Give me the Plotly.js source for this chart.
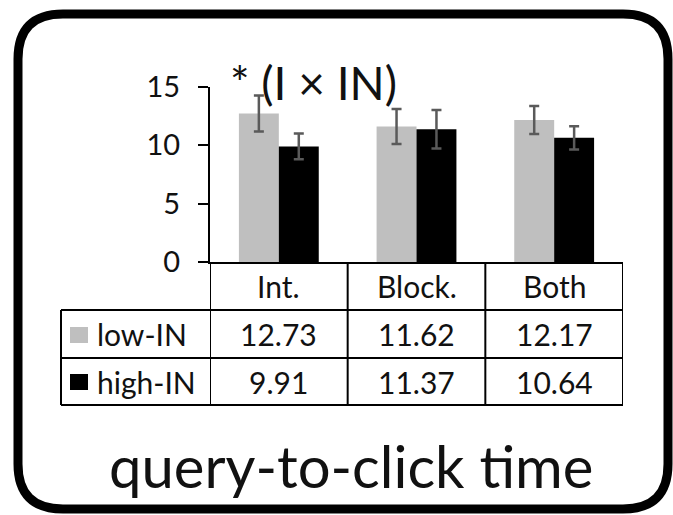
<!DOCTYPE html>
<html>
<head>
<meta charset="utf-8">
<script src="https://cdn.plot.ly/plotly-3.0.1.min.js"></script>
<style>html,body{margin:0;padding:0;background:#fff;}#chart{width:673px;height:515px;}</style>
</head>
<body>
<div id="chart"></div>
<script>
const categories = ['Int.', 'Block.', 'Both'];
const seriesNames = ['low-IN', 'high-IN'];
const lowIN = [12.73, 11.62, 12.17];
const highIN = [9.91, 11.37, 10.64];
const lowErr = [1.55, 1.5, 1.2];
const highErr = [1.1, 1.65, 1.0];
const yTicks = [0, 5, 10, 15];
const chartTitle = 'query-to-click time';
const sigLabel = '* (I \u00d7 IN)';

const W = 673, H = 515;
const M = {l: 210, r: 50, t: 87, b: 253};
const PW = W - M.l - M.r, PH = H - M.t - M.b;
const px = x => (x - M.l) / PW;
const py = y => (H - M.b - y) / PH;

const FONT = 'Lato, "Open Sans", sans-serif';
const WT = 400;
const colors = ['#bfbfbf', '#000000'];

const traces = [
  {type: 'bar', x: categories, y: lowIN, name: seriesNames[0], marker: {color: colors[0]},
   error_y: {type: 'data', array: lowErr, visible: true, color: '#5a5a5a', thickness: 2.5, width: 5}},
  {type: 'bar', x: categories, y: highIN, name: seriesNames[1], marker: {color: colors[1]},
   error_y: {type: 'data', array: highErr, visible: true, color: '#5a5a5a', thickness: 2.5, width: 5}}
];

const line = (x0, y0, x1, y1, xref) => ({type: 'line', xref: xref || 'paper', yref: 'paper',
  x0: x0, y0: y0, x1: x1, y1: y1, line: {color: '#000', width: 2}});

const shapes = [];
[310, 358, 405].forEach(y => shapes.push(line(px(61), py(y), 1, py(y))));
shapes.push(line(px(61), py(310), px(61), py(405)));
[-0.5, 0.5, 1.5, 2.5].forEach(x => shapes.push(line(x, 0, x, py(405), 'x')));
shapes.push({type: 'rect', xref: 'paper', yref: 'paper', x0: px(70), x1: px(88), y0: py(327), y1: py(343),
  fillcolor: colors[0], line: {width: 0}});
shapes.push({type: 'rect', xref: 'paper', yref: 'paper', x0: px(70), x1: px(88), y0: py(374), y1: py(390),
  fillcolor: colors[1], line: {width: 0}});
(function () {
  const x0 = 18, x1 = 668, y0 = 14, y1 = 509, r = 45;
  const P = (x, y) => px(x) + ',' + py(y);
  const d = 'M ' + P(x0 + r, y0) + ' L ' + P(x1 - r, y0) + ' Q ' + P(x1, y0) + ' ' + P(x1, y0 + r) +
    ' L ' + P(x1, y1 - r) + ' Q ' + P(x1, y1) + ' ' + P(x1 - r, y1) +
    ' L ' + P(x0 + r, y1) + ' Q ' + P(x0, y1) + ' ' + P(x0, y1 - r) +
    ' L ' + P(x0, y0 + r) + ' Q ' + P(x0, y0) + ' ' + P(x0 + r, y0) + ' Z';
  shapes.push({type: 'path', xref: 'paper', yref: 'paper', path: d, line: {color: '#000', width: 9}});
})();

const annotations = [];
const cellFont = {family: FONT, size: 30, color: '#111', weight: WT};
const rowY = [py(286), py(334), py(381.5)];
categories.forEach((c, i) => {
  annotations.push({xref: 'x', yref: 'paper', x: i, y: rowY[0], text: c, showarrow: false,
    xanchor: 'center', yanchor: 'middle', font: cellFont});
  annotations.push({xref: 'x', yref: 'paper', x: i, y: rowY[1], text: lowIN[i].toFixed(2), showarrow: false,
    xanchor: 'center', yanchor: 'middle', font: cellFont});
  annotations.push({xref: 'x', yref: 'paper', x: i, y: rowY[2], text: highIN[i].toFixed(2), showarrow: false,
    xanchor: 'center', yanchor: 'middle', font: cellFont});
});
annotations.push({xref: 'paper', yref: 'paper', x: px(95), y: rowY[1], text: seriesNames[0], showarrow: false,
  xanchor: 'left', yanchor: 'middle', font: cellFont});
annotations.push({xref: 'paper', yref: 'paper', x: px(95), y: rowY[2], text: seriesNames[1], showarrow: false,
  xanchor: 'left', yanchor: 'middle', font: cellFont});
annotations.push({xref: 'paper', yref: 'paper', x: px(351), y: py(465), text: chartTitle, showarrow: false,
  xanchor: 'center', yanchor: 'middle', font: {family: FONT, size: 58, color: '#111', weight: WT}});
annotations.push({xref: 'paper', yref: 'paper', x: px(228), y: py(82), text: sigLabel, showarrow: false,
  xanchor: 'left', yanchor: 'middle', font: {family: FONT, size: 46, color: '#111', weight: WT}});

const layout = {
  width: W, height: H,
  margin: M,
  paper_bgcolor: '#fff', plot_bgcolor: '#fff',
  showlegend: false,
  barmode: 'group', bargap: 0.42, bargroupgap: 0,
  xaxis: {type: 'category', range: [-0.5, 2.5], showticklabels: false, ticks: '', showgrid: false,
    zeroline: false, showline: true, linecolor: '#000', linewidth: 2, fixedrange: true},
  yaxis: {range: [0, 15], tickvals: yTicks, ticktext: yTicks.map(String), ticks: 'outside', ticklen: 10,
    tickwidth: 2, tickcolor: '#000', showline: true, linecolor: '#000', linewidth: 2, showgrid: false,
    zeroline: false, ticklabelstandoff: 12, tickfont: {family: FONT, size: 29, color: '#111', weight: WT}, fixedrange: true},
  shapes: shapes,
  annotations: annotations
};

Plotly.newPlot('chart', traces, layout, {displayModeBar: false, staticPlot: true});
</script>
</body>
</html>
